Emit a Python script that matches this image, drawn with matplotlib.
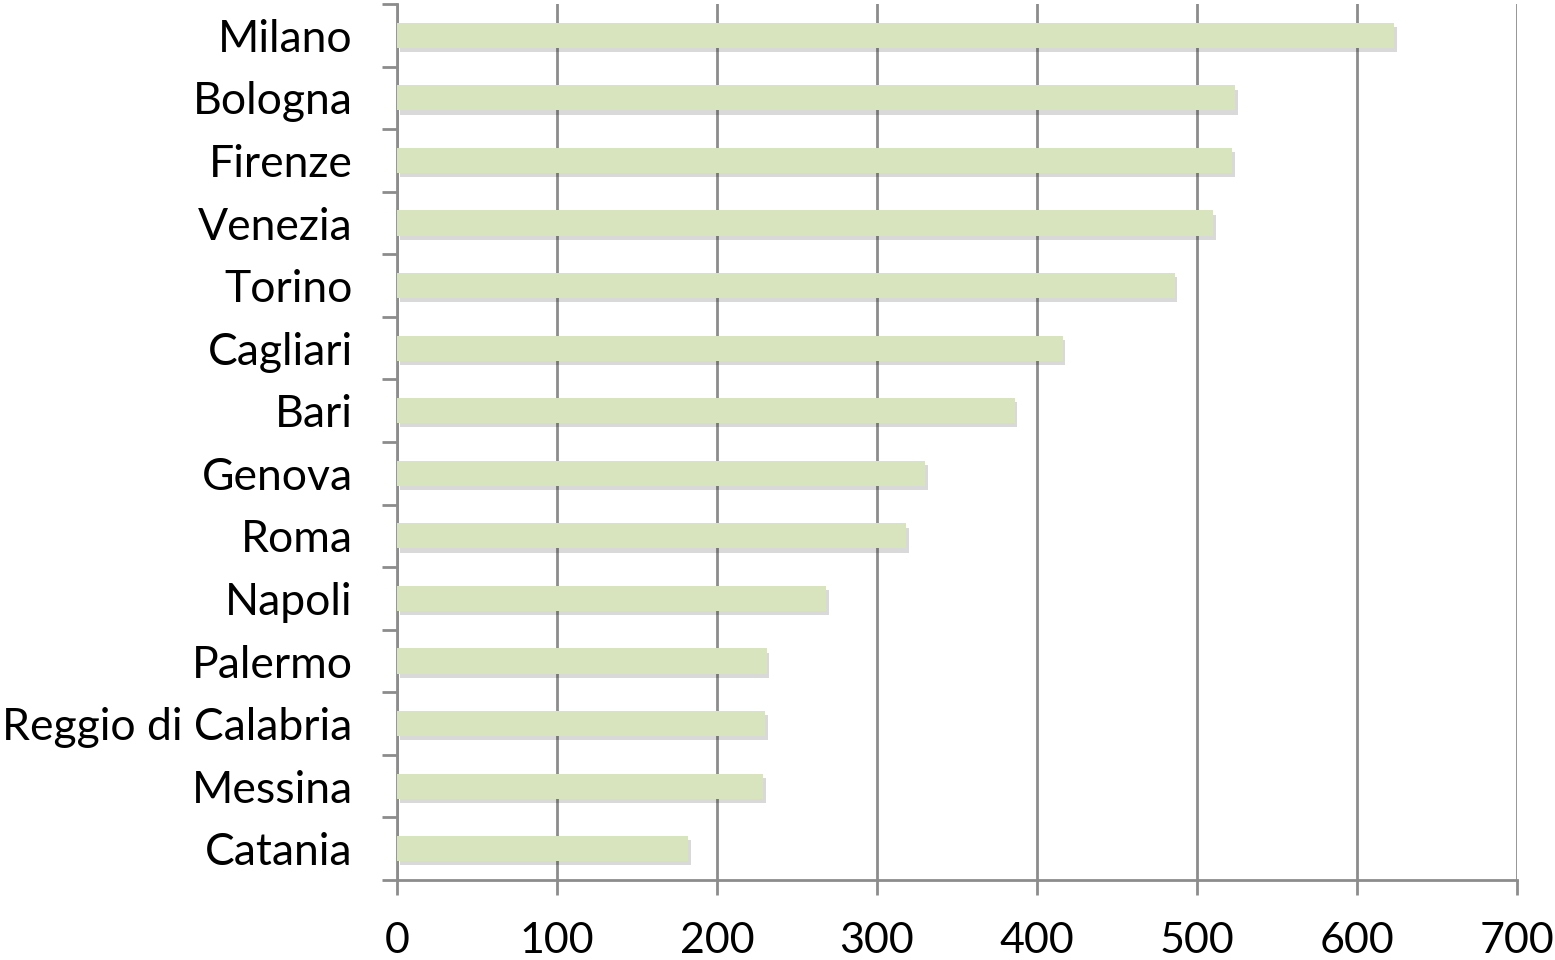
import numpy as np
import matplotlib.pyplot as plt
import matplotlib.patheffects as pe

cities = ['Milano', 'Bologna', 'Firenze', 'Venezia', 'Torino', 'Cagliari', 'Bari',
          'Genova', 'Roma', 'Napoli', 'Palermo', 'Reggio di Calabria', 'Messina', 'Catania']
values = [623, 524, 522, 510, 486, 416, 386, 330, 318, 268, 231, 230, 229, 182]
xticks = [0, 100, 200, 300, 400, 500, 600, 700]

plt.rcParams['font.family'] = ['Lato', 'DejaVu Sans']

fig = plt.figure(figsize=(15.55, 9.6), dpi=100)
ax = fig.add_axes([397 / 1555, 1 - 880 / 960, 1120 / 1555, 876 / 960])

grey = '#8c8c8c'
y = np.arange(len(cities))
bars = ax.barh(y, values, height=0.4, color='#d7e4bd', zorder=3)
for b in bars:
    b.set_path_effects([pe.SimplePatchShadow(offset=(2, -3), shadow_rgbFace='#000000', alpha=0.15),
                        pe.Normal()])

ax.set_xlim(0, 700)
ax.set_ylim(len(cities) - 0.5, -0.5)
ax.set_xticks(xticks)
ax.set_yticks(y)
ax.set_yticklabels(cities)
ax.set_yticks(np.arange(-0.5, len(cities)), minor=True)

ax.grid(axis='x', color=grey, linewidth=2, zorder=0)
ax.set_axisbelow(True)

for s in ['top', 'right']:
    ax.spines[s].set_visible(False)
for s in ['left', 'bottom']:
    ax.spines[s].set_color(grey)
    ax.spines[s].set_linewidth(2)

ax.tick_params(axis='y', which='major', length=0, pad=32, labelsize=32)
ax.tick_params(axis='y', which='minor', length=11, width=2, color=grey, direction='out')
ax.tick_params(axis='x', which='major', length=11, width=2, color=grey, direction='out',
               pad=19, labelsize=31)

fig.savefig('out.png', dpi=100, facecolor='white')
